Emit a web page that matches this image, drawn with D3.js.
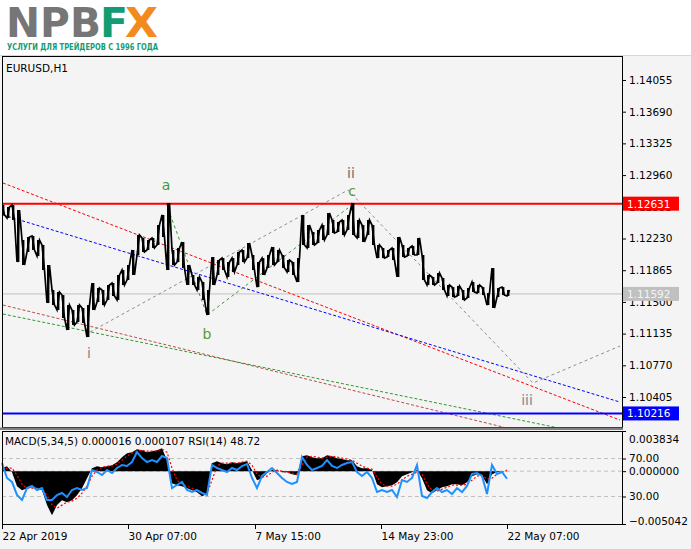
<!DOCTYPE html>
<html>
<head>
<meta charset="utf-8">
<script src="https://cdn.jsdelivr.net/npm/d3@7"></script>
<style>
  body { margin: 0; background: #f4f4f4; }
  svg text { font-family: "DejaVu Sans", sans-serif; }
</style>
</head>
<body>
<svg id="chart"></svg>
<script>
// price bars, sampled every 5 hourly bars (high / low)
const barStep = 5;
const highs = [1.12616,1.12593,1.12616,1.12558,1.12213,1.12247,1.12259,1.12213,1.12155,1.11925,
  1.11637,1.11614,1.11579,1.11464,1.11407,1.11464,1.11430,1.11464,1.11718,1.11660,
  1.11637,1.11695,1.11718,1.11810,1.11867,1.11925,1.12098,1.12270,1.12236,1.12213,
  1.12236,1.12385,1.12501,1.12639,1.12098,1.12121,1.12190,1.11925,1.11810,1.11787,
  1.11729,1.11637,1.12017,1.11982,1.12005,1.11959,1.12005,1.12075,1.12098,1.12178,
  1.12040,1.11959,1.12005,1.12040,1.12132,1.12098,1.12040,1.11982,1.11959,1.12005,
  1.12501,1.12385,1.12305,1.12328,1.12385,1.12523,1.12443,1.12420,1.12443,1.12501,
  1.12639,1.12443,1.12385,1.12443,1.12385,1.12155,1.12121,1.12098,1.12121,1.12247,
  1.12155,1.12121,1.12144,1.12236,1.12040,1.11810,1.11787,1.11833,1.11775,1.11695,
  1.11671,1.11683,1.11637,1.11660,1.11729,1.11695,1.11671,1.11602,1.11890,1.11660,
  1.11671,1.11637];
const lows = [1.12501,1.12466,1.12443,1.11959,1.11925,1.12075,1.12098,1.12028,1.11867,1.11487,
  1.11464,1.11407,1.11315,1.11177,1.11234,1.11269,1.11257,1.11096,1.11407,1.11499,
  1.11464,1.11522,1.11568,1.11522,1.11695,1.11752,1.11810,1.12040,1.12075,1.12098,
  1.12121,1.12155,1.12247,1.11867,1.11925,1.11959,1.11890,1.11695,1.11695,1.11637,
  1.11522,1.11349,1.11695,1.11810,1.11867,1.11787,1.11844,1.11925,1.11959,1.12005,
  1.11867,1.11671,1.11810,1.11890,1.11925,1.11959,1.11890,1.11844,1.11810,1.11729,
  1.12155,1.12121,1.12155,1.12178,1.12213,1.12270,1.12293,1.12305,1.12270,1.12328,
  1.12270,1.12236,1.12190,1.12270,1.12155,1.12005,1.12005,1.12017,1.11982,1.11787,
  1.12017,1.12028,1.12040,1.12040,1.11752,1.11695,1.11695,1.11718,1.11637,1.11568,
  1.11556,1.11568,1.11522,1.11545,1.11614,1.11602,1.11579,1.11464,1.11430,1.11556,
  1.11579,1.11568];

const macd = [0.00029,0.00048,-0.00010,-0.00143,-0.00181,-0.00162,-0.00153,-0.00162,-0.00181,-0.00324,
  -0.00420,-0.00324,-0.00277,-0.00296,-0.00277,-0.00229,-0.00162,-0.00067,0.00029,0.00048,
  0.00038,0.00048,0.00057,0.00086,0.00134,0.00172,0.00181,0.00210,0.00200,0.00181,
  0.00191,0.00200,0.00219,0.00105,-0.00115,-0.00134,-0.00143,-0.00162,-0.00181,-0.00200,
  -0.00239,-0.00219,0.00076,0.00095,0.00076,0.00067,0.00086,0.00076,0.00086,0.00095,
  0.00010,-0.00086,-0.00067,-0.00019,0.00010,0.00010,-0.00010,-0.00010,-0.00029,-0.00038,
  0.00143,0.00153,0.00134,0.00124,0.00124,0.00153,0.00143,0.00124,0.00115,0.00105,
  0.00105,0.00048,0.00029,0.00029,0.00010,-0.00124,-0.00153,-0.00143,-0.00134,-0.00105,
  -0.00048,-0.00029,-0.00010,0.00010,-0.00067,-0.00181,-0.00210,-0.00181,-0.00153,-0.00143,
  -0.00124,-0.00124,-0.00134,-0.00105,-0.00048,-0.00029,-0.00038,-0.00124,-0.00029,-0.00010,
  0.00000,0.00002];
const signal = [0.00010,0.00029,0.00029,-0.00038,-0.00124,-0.00162,-0.00162,-0.00162,-0.00172,-0.00229,
  -0.00324,-0.00353,-0.00324,-0.00296,-0.00286,-0.00258,-0.00210,-0.00143,-0.00048,0.00010,
  0.00038,0.00048,0.00048,0.00067,0.00105,0.00143,0.00172,0.00191,0.00200,0.00191,
  0.00191,0.00191,0.00210,0.00181,0.00029,-0.00086,-0.00124,-0.00143,-0.00162,-0.00181,
  -0.00210,-0.00219,-0.00086,0.00048,0.00076,0.00076,0.00076,0.00076,0.00086,0.00095,
  0.00057,-0.00029,-0.00057,-0.00048,-0.00010,0.00010,0.00000,-0.00010,-0.00019,-0.00029,
  0.00057,0.00134,0.00143,0.00134,0.00124,0.00134,0.00143,0.00134,0.00124,0.00115,
  0.00105,0.00076,0.00048,0.00029,0.00019,-0.00057,-0.00124,-0.00143,-0.00143,-0.00124,
  -0.00086,-0.00048,-0.00029,-0.00010,-0.00029,-0.00124,-0.00181,-0.00191,-0.00172,-0.00153,
  -0.00134,-0.00134,-0.00134,-0.00124,-0.00086,-0.00048,-0.00038,-0.00076,-0.00067,-0.00029,
  -0.00010,0.00011];
const rsi = [65.3,49.5,45.3,31.6,26.3,38.9,41.1,36.8,38.9,26.3,
  26.3,31.6,33.7,29.5,36.8,38.9,36.8,38.9,57.9,55.8,
  52.6,57.9,54.7,60.0,63.2,62.1,66.3,76.8,70.5,66.3,
  68.4,66.3,72.6,70.5,38.9,42.1,45.3,36.8,34.7,36.8,
  33.7,31.6,63.2,60.0,57.9,55.8,60.0,57.9,62.1,64.2,
  49.5,38.9,51.6,55.8,60.0,54.7,49.5,45.3,43.2,45.3,
  71.6,63.2,57.9,60.0,62.1,68.4,62.1,60.0,63.2,65.3,
  66.3,55.8,51.6,55.8,49.5,34.7,36.8,34.7,36.8,29.5,
  47.4,45.3,49.5,63.2,30.5,28.4,34.7,38.9,34.7,36.8,
  32.6,38.9,34.7,41.1,53.7,54.7,51.6,32.6,63.2,53.7,
  55.8,48.7];

const priceTicks = [1.14055,1.13690,1.13325,1.12960,1.12595,1.12230,1.11865,1.11500,1.11135,1.10770,1.10405];
const timeTickBars = [0,126,253,379,505];
const timeTickLabels = ['22 Apr 2019','30 Apr 07:00','7 May 15:00','14 May 23:00','22 May 07:00'];

const resistance = 1.12631, support = 1.10216, bid = 1.11592;

// trend lines: [bar, price] pairs
const trendLines = [
  { color: '#ff0000', pts: [[1,1.12869],[618,1.10140]] },
  { color: '#0000ff', pts: [[1,1.12501],[618,1.10347]] },
  { color: '#c04848', pts: [[1,1.11464],[618,1.09731]] },
  { color: '#2f9a2f', pts: [[1,1.11361],[618,1.09904]] }
];
const waveGray = [[88,1.11153],[346,1.12788],[531,1.10566],[618,1.10992]];
const waveGreen = [[164,1.12639],[205,1.11349],[346,1.12581]];
const waveLabels = [
  { t: 'i', bar: 87, p: 1.10854, c: '#8a7f88' },
  { t: 'ii', bar: 349, p: 1.12927, c: '#6f6a70' },
  { t: 'iii', bar: 525, p: 1.10313, c: '#7e8a98' },
  { t: 'a', bar: 164, p: 1.12788, c: '#3f9a3f' },
  { t: 'b', bar: 205, p: 1.11073, c: '#5a9a30' },
  { t: 'c', bar: 350, p: 1.12719, c: '#5d9a2a' }
];

const width = 691, height = 549;
const main = { left: 2, right: 622, top: 56, bottom: 427 };
const sub = { top: 431, bottom: 524 };

const svg = d3.select('#chart').attr('width', width).attr('height', height);

// logo strip
svg.append('rect').attr('width', width).attr('height', 55).attr('fill', '#ffffff');
const logo = svg.append('g');
logo.append('text').attr('x', 6).attr('y', 37).attr('font-size', 41).attr('font-weight', 'bold')
  .attr('textLength', 95).attr('lengthAdjust', 'spacingAndGlyphs').attr('fill', '#767676').text('NPB');
logo.append('text').attr('x', 100).attr('y', 37).attr('font-size', 41).attr('font-weight', 'bold')
  .attr('textLength', 28).attr('lengthAdjust', 'spacingAndGlyphs').attr('fill', '#139c74').text('F');
logo.append('text').attr('x', 125).attr('y', 37).attr('font-size', 41).attr('font-weight', 'bold')
  .attr('textLength', 33).attr('lengthAdjust', 'spacingAndGlyphs').attr('fill', '#f28a1e').text('X');
logo.append('text').attr('x', 7).attr('y', 50).attr('font-size', 9.5).attr('font-weight', 'bold')
  .attr('textLength', 151).attr('lengthAdjust', 'spacingAndGlyphs').attr('fill', '#139c74')
  .text('УСЛУГИ ДЛЯ ТРЕЙДЕРОВ С 1996 ГОДА');
svg.append('line').attr('x1', 0).attr('x2', width).attr('y1', 55.5).attr('y2', 55.5).attr('stroke', '#d8d8d8');

// scales
const x = d3.scaleLinear().domain([0, 620]).range([main.left, main.right]);
const y = d3.scaleLinear().domain([1.10060, 1.14331]).range([main.bottom, main.top]);
const yM = d3.scaleLinear().domain([-0.005042, 0.003834]).range([sub.bottom, sub.top]);
const yR = d3.scaleLinear().domain([0, 100]).range([525, 430]);

svg.append('defs').append('clipPath').attr('id', 'clipMain').append('rect')
  .attr('x', main.left).attr('y', main.top).attr('width', main.right - main.left).attr('height', main.bottom - main.top);

// price axis
const yAxis = svg.append('g').attr('transform', `translate(${main.right},0)`)
  .call(d3.axisRight(y).tickValues(priceTicks).tickSize(4).tickPadding(3).tickFormat(d3.format('.5f')));
yAxis.select('.domain').remove();
yAxis.selectAll('text').attr('font-size', 10.5).attr('font-family', 'DejaVu Sans').attr('fill', '#000');

const plot = svg.append('g').attr('clip-path', 'url(#clipMain)');

// horizontal levels
plot.append('line').attr('x1', main.left).attr('x2', main.right).attr('y1', y(bid)).attr('y2', y(bid))
  .attr('stroke', '#c0c0c0').attr('stroke-width', 1);

// trend lines
const line = d3.line().x(d => x(d[0])).y(d => y(d[1]));
trendLines.forEach(t => {
  plot.append('path').attr('d', line(t.pts)).attr('fill', 'none')
    .attr('stroke', t.color).attr('stroke-width', 1).attr('stroke-dasharray', '3 2');
});
plot.append('path').attr('d', line(waveGray)).attr('fill', 'none')
  .attr('stroke', '#8c8c8c').attr('stroke-width', 1).attr('stroke-dasharray', '3 3');
plot.append('path').attr('d', line(waveGreen)).attr('fill', 'none')
  .attr('stroke', '#3a9a3a').attr('stroke-width', 1).attr('stroke-dasharray', '3 3');

plot.append('line').attr('x1', main.left).attr('x2', main.right).attr('y1', y(resistance)).attr('y2', y(resistance))
  .attr('stroke', '#ff0000').attr('stroke-width', 2);
plot.append('line').attr('x1', main.left).attr('x2', main.right).attr('y1', y(support)).attr('y2', y(support))
  .attr('stroke', '#0000ff').attr('stroke-width', 2);

// price bars: a wiggling band between highs and lows plus one bar per sample
const zig = [];
highs.forEach((h, i) => {
  const a = i % 2 ? lows[i] : h, b = i % 2 ? h : lows[i];
  zig.push([i * barStep, a]);
  zig.push([i * barStep + 2.5, b]);
});
plot.append('path').attr('d', line(zig)).attr('fill', 'none').attr('stroke', '#000').attr('stroke-width', 1.7);
plot.selectAll('line.bar').data(highs).join('line').attr('class', 'bar')
  .attr('x1', (d, i) => x(i * barStep + 1.2)).attr('x2', (d, i) => x(i * barStep + 1.2))
  .attr('y1', d => y(d)).attr('y2', (d, i) => y(lows[i]))
  .attr('stroke', '#000').attr('stroke-width', 2.4);

// wave labels
svg.selectAll('text.wave').data(waveLabels).join('text').attr('class', 'wave')
  .attr('x', d => x(d.bar)).attr('y', d => y(d.p)).attr('text-anchor', 'middle')
  .attr('font-size', 14).attr('fill', d => d.c).text(d => d.t);

// price tags
function tag(p, bg, fg) {
  svg.append('rect').attr('x', main.right + 1).attr('y', y(p) - 7).attr('width', 56).attr('height', 14).attr('fill', bg);
  svg.append('text').attr('x', main.right + 5).attr('y', y(p) + 4).attr('font-size', 10.5).attr('fill', fg)
    .text(d3.format('.5f')(p));
}
tag(resistance, '#ff0000', '#ffffff');
tag(bid, '#c0c0c0', '#f4f4f4');
tag(support, '#0000ff', '#ffffff');

svg.append('text').attr('x', 6).attr('y', 72).attr('font-size', 10.5).attr('fill', '#000').text('EURUSD,H1');

// main frame
svg.append('rect').attr('x', main.left + 0.5).attr('y', main.top + 0.5)
  .attr('width', main.right - main.left).attr('height', main.bottom - main.top)
  .attr('fill', 'none').attr('stroke', '#000');
svg.append('rect').attr('x', 0).attr('y', main.bottom + 0.5).attr('width', main.right + 1).attr('height', 2.5).attr('fill', '#808080');

// indicator panel
const ind = svg.append('g');
[yR(70), yM(0), yR(30)].forEach(v => {
  ind.append('line').attr('x1', main.left).attr('x2', main.right).attr('y1', v).attr('y2', v)
    .attr('stroke', '#c0c0c0').attr('stroke-dasharray', '4 3');
});
const xs = (d, i) => x(i * barStep);
ind.append('path').attr('d', d3.area().x(xs).y0(yM(0)).y1(d => yM(d))(macd)).attr('fill', '#000');
ind.append('path').attr('d', d3.line().x(xs).y(d => yM(d))(signal)).attr('fill', 'none')
  .attr('stroke', '#ff0000').attr('stroke-width', 1.2).attr('stroke-dasharray', '2 2');
ind.append('path').attr('d', d3.line().x(xs).y(d => yR(d))(rsi)).attr('fill', 'none')
  .attr('stroke', '#1e90ff').attr('stroke-width', 2);

svg.append('rect').attr('x', main.left + 0.5).attr('y', sub.top + 0.5)
  .attr('width', main.right - main.left).attr('height', sub.bottom - sub.top)
  .attr('fill', 'none').attr('stroke', '#000');
svg.append('text').attr('x', 5).attr('y', 445).attr('font-size', 10.5).attr('fill', '#000')
  .text('MACD(5,34,5) 0.000016 0.000107 RSI(14) 48.72');

const mAxis = svg.append('g').attr('transform', `translate(${main.right},0)`)
  .call(d3.axisRight(yM).tickValues([0.003834, 0, -0.005042]).tickSize(4).tickPadding(3).tickFormat(d3.format('.6f')));
mAxis.select('.domain').remove();
mAxis.selectAll('text').attr('font-size', 10.5).attr('font-family', 'DejaVu Sans').attr('fill', '#000')
  .attr('dy', (d, i) => i === 0 ? '1.05em' : (i === 2 ? '0' : '0.32em'));
const rAxis = svg.append('g').attr('transform', `translate(${main.right},0)`)
  .call(d3.axisRight(yR).tickValues([70, 30]).tickSize(4).tickPadding(3).tickFormat(d3.format('.2f')));
rAxis.select('.domain').remove();
rAxis.selectAll('text').attr('font-size', 10.5).attr('font-family', 'DejaVu Sans').attr('fill', '#000');

// time axis
const xAxis = svg.append('g').attr('transform', `translate(0,${sub.bottom + 1})`)
  .call(d3.axisBottom(x).tickValues(timeTickBars).tickSize(4).tickPadding(4)
    .tickFormat((d, i) => timeTickLabels[i]));
xAxis.select('.domain').remove();
xAxis.selectAll('text').attr('font-size', 10.5).attr('font-family', 'DejaVu Sans').attr('fill', '#000')
  .attr('text-anchor', 'start');
</script>
</body>
</html>
